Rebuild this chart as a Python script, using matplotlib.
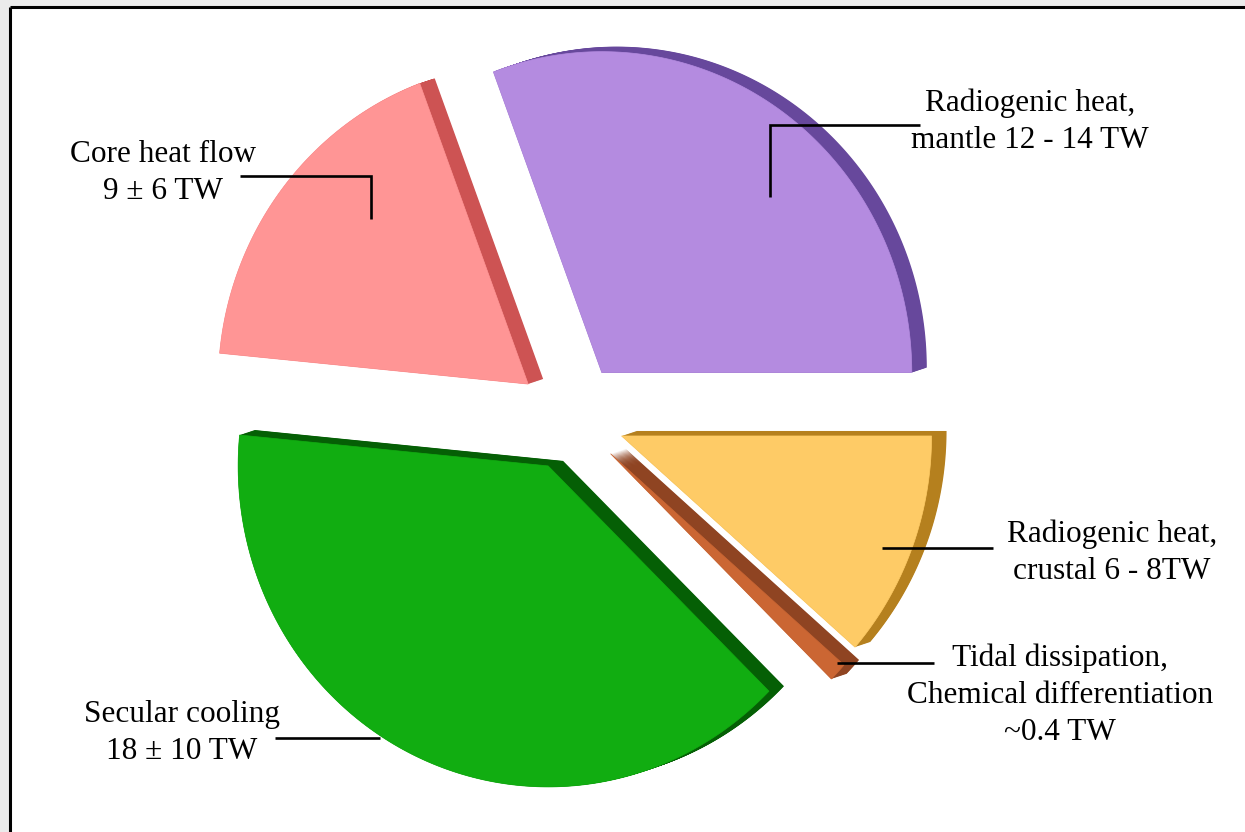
import numpy as np
import matplotlib
matplotlib.use("Agg")
import matplotlib.pyplot as plt
from matplotlib.patches import Polygon, Rectangle

# ---- data ----
categories = ["Radiogenic heat, mantle", "Core heat flow", "Secular cooling",
              "Tidal dissipation, chemical differentiation", "Radiogenic heat, crustal"]
values = [14.5, 8.4, 18.5, 0.45, 5.4]
labels = ["Radiogenic heat,\nmantle 12 - 14 TW",
          "Core heat flow\n9 \u00b1 6 TW",
          "Secular cooling\n18 \u00b1 10 TW",
          "Tidal dissipation,\nChemical differentiation\n~0.4 TW",
          "Radiogenic heat,\ncrustal 6 - 8TW"]
face_colors = ["#B48BE0", "#FF9595", "#11AD11", "#CB6633", "#FECB66"]
side_colors = ["#67489C", "#CD5353", "#055F05", "#8F4422", "#B5801E"]

# ---- layout (pixel coordinates, y downward) ----
W, H = 1245, 832
cx, cy = 571, 417
rx, ry = 310, 321
explode = 54
depth = (15, -5)

label_pos = [(1030, 122), (163, 173), (182, 733), (1060, 695), (1112, 553)]
leaders = [[(920, 125), (770, 125), (770, 197)],
           [(240, 176), (371, 176), (371, 219)],
           [(275, 738), (380, 738)],
           [(837, 663), (934, 663)],
           [(882, 548), (993, 548)]]

fig = plt.figure(figsize=(W / 100, H / 100), dpi=100)
fig.patch.set_facecolor("#ebebeb")
ax = fig.add_axes([0, 0, 1, 1])
ax.set_xlim(0, W)
ax.set_ylim(H, 0)
ax.axis("off")

# background panel with top/left border
ax.add_patch(Rectangle((10, 7), W, H, facecolor="white", edgecolor="none", zorder=0))
ax.plot([10, W], [7, 7], color="black", lw=2.2, zorder=1, solid_capstyle="butt")
ax.plot([10, 10], [7, H], color="black", lw=2.2, zorder=1, solid_capstyle="butt")

total = float(np.sum(values))
angles = np.concatenate([[0.0], np.cumsum(values) / total * 360.0])

for i, v in enumerate(values):
    a0, a1 = np.radians(angles[i]), np.radians(angles[i + 1])
    mid = 0.5 * (a0 + a1)
    ax0 = cx + explode * np.cos(mid)
    ay0 = cy - explode * np.sin(mid)
    t = np.linspace(a0, a1, 200)
    xs = np.concatenate([[ax0], ax0 + rx * np.cos(t)])
    ys = np.concatenate([[ay0], ay0 - ry * np.sin(t)])
    pts = np.column_stack([xs, ys])
    # extrusion (side)
    for s in np.linspace(0, 1, 24):
        shifted = pts + np.array(depth) * s
        ax.add_patch(Polygon(shifted, closed=True, facecolor=side_colors[i],
                             edgecolor="none", zorder=2 + i * 0.01))
    ax.add_patch(Polygon(pts, closed=True, facecolor=face_colors[i],
                         edgecolor=face_colors[i], lw=0.5, zorder=3 + i * 0.01))

for i, lab in enumerate(labels):
    x, y = label_pos[i]
    ax.text(x, y, lab, ha="center", va="center", fontsize=22.5,
            family=["Liberation Serif", "DejaVu Serif"], color="black",
            linespacing=1.36, zorder=6)
    lx, ly = zip(*leaders[i])
    ax.plot(lx, ly, color="black", lw=1.9, zorder=5, solid_joinstyle="miter",
            solid_capstyle="butt")

fig.savefig("out.png", dpi=100, facecolor=fig.get_facecolor())
